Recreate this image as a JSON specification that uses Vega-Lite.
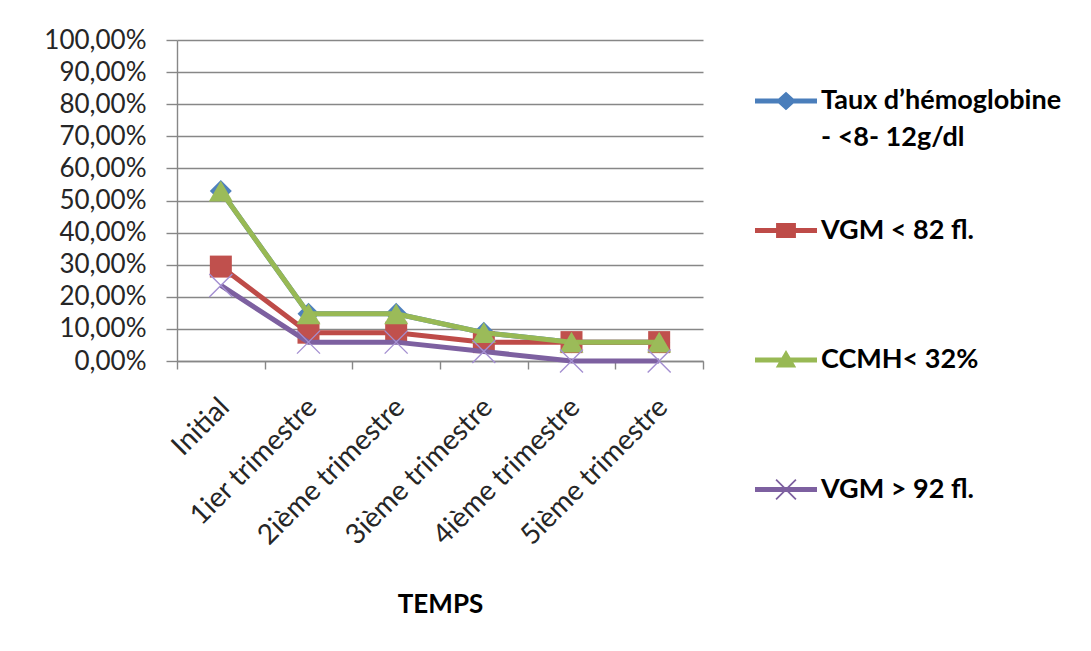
{
  "$schema": "https://vega.github.io/schema/vega-lite/v6.json",
  "width": 526,
  "height": 321,
  "autosize": {"type": "none"},
  "padding": {"left": 177, "top": 40, "right": 388, "bottom": 290},
  "background": "white",
  "config": {
    "font": "Lato",
    "view": {"stroke": null},
    "axis": {
      "domainColor": "#878787",
      "domainWidth": 1.4,
      "tickColor": "#878787",
      "tickWidth": 1.4,
      "gridColor": "#878787",
      "gridWidth": 1.4,
      "labelFont": "Lato",
      "labelFontSize": 26,
      "labelColor": "#262626",
      "titleFont": "Lato",
      "titleFontSize": 26,
      "titleFontWeight": "bold",
      "titleColor": "#000000"
    }
  },
  "data": {
    "values": [
      {"Temps": "Initial", "Serie": "Taux d’hémoglobine - <8- 12g/dl", "Valeur": 0.5294},
      {"Temps": "1ier trimestre", "Serie": "Taux d’hémoglobine - <8- 12g/dl", "Valeur": 0.1471},
      {"Temps": "2ième trimestre", "Serie": "Taux d’hémoglobine - <8- 12g/dl", "Valeur": 0.1471},
      {"Temps": "3ième  trimestre", "Serie": "Taux d’hémoglobine - <8- 12g/dl", "Valeur": 0.0882},
      {"Temps": "4ième trimestre", "Serie": "Taux d’hémoglobine - <8- 12g/dl", "Valeur": 0.0588},
      {"Temps": "5ième trimestre", "Serie": "Taux d’hémoglobine - <8- 12g/dl", "Valeur": 0.0588},
      {"Temps": "Initial", "Serie": "VGM < 82 fl.", "Valeur": 0.2941},
      {"Temps": "1ier trimestre", "Serie": "VGM < 82 fl.", "Valeur": 0.0882},
      {"Temps": "2ième trimestre", "Serie": "VGM < 82 fl.", "Valeur": 0.0882},
      {"Temps": "3ième  trimestre", "Serie": "VGM < 82 fl.", "Valeur": 0.0588},
      {"Temps": "4ième trimestre", "Serie": "VGM < 82 fl.", "Valeur": 0.0588},
      {"Temps": "5ième trimestre", "Serie": "VGM < 82 fl.", "Valeur": 0.0588},
      {"Temps": "Initial", "Serie": "CCMH< 32%", "Valeur": 0.5294},
      {"Temps": "1ier trimestre", "Serie": "CCMH< 32%", "Valeur": 0.1471},
      {"Temps": "2ième trimestre", "Serie": "CCMH< 32%", "Valeur": 0.1471},
      {"Temps": "3ième  trimestre", "Serie": "CCMH< 32%", "Valeur": 0.0882},
      {"Temps": "4ième trimestre", "Serie": "CCMH< 32%", "Valeur": 0.0588},
      {"Temps": "5ième trimestre", "Serie": "CCMH< 32%", "Valeur": 0.0588},
      {"Temps": "Initial", "Serie": "VGM > 92 fl.", "Valeur": 0.2353},
      {"Temps": "1ier trimestre", "Serie": "VGM > 92 fl.", "Valeur": 0.0588},
      {"Temps": "2ième trimestre", "Serie": "VGM > 92 fl.", "Valeur": 0.0588},
      {"Temps": "3ième  trimestre", "Serie": "VGM > 92 fl.", "Valeur": 0.0294},
      {"Temps": "4ième trimestre", "Serie": "VGM > 92 fl.", "Valeur": 0.0},
      {"Temps": "5ième trimestre", "Serie": "VGM > 92 fl.", "Valeur": 0.0}
    ]
  },
  "encoding": {
    "x": {
      "field": "Temps",
      "type": "nominal",
      "sort": ["Initial", "1ier trimestre", "2ième trimestre", "3ième  trimestre", "4ième trimestre", "5ième trimestre"],
      "scale": {"paddingInner": 0, "paddingOuter": 0},
      "axis": {
        "title": "TEMPS",
        "titlePadding": 36,
        "labelAngle": -45,
        "labelAlign": "right",
        "labelBaseline": "top",
        "labelFontSize": 28,
        "labelPadding": 24,
        "labelOffset": -6,
        "labelLimit": 0,
        "tickSize": 8,
        "tickBand": "extent",
        "grid": false
      }
    },
    "y": {
      "field": "Valeur",
      "type": "quantitative",
      "scale": {"domain": [0, 1], "nice": false},
      "axis": {
        "title": null,
        "values": [0, 0.1, 0.2, 0.3, 0.4, 0.5, 0.6, 0.7, 0.8, 0.9, 1],
        "labelExpr": "replace(format(datum.value, '.2%'), '.', ',')",
        "tickSize": 11,
        "labelPadding": 20,
        "grid": true
      }
    }
  },
  "layer": [
    {
      "transform": [{"filter": "datum.Serie === 'Taux d’hémoglobine - <8- 12g/dl'"}],
      "mark": {"type": "line", "strokeWidth": 5},
      "encoding": {
        "color": {
          "field": "Serie",
          "type": "nominal",
          "scale": {
            "domain": ["Taux d’hémoglobine - <8- 12g/dl", "VGM < 82 fl.", "CCMH< 32%", "VGM > 92 fl."],
            "range": ["#4A7EBB", "#BE4B48", "#98B954", "#7D60A0"]
          },
          "legend": {
            "title": null,
            "orient": "none",
            "legendX": 578,
            "legendY": 30,
            "direction": "vertical",
            "gridAlign": "all",
            "symbolSize": 3844,
            "rowPadding": 48.5,
            "labelOffset": 4,
            "labelFont": "Lato",
            "labelFontSize": 27,
            "labelFontWeight": "bold",
            "labelColor": "#000000",
            "labelLimit": 400,
            "labelBaseline": "middle",
            "labelExpr": "datum.label === 'Taux d’hémoglobine - <8- 12g/dl' ? ['Taux d’hémoglobine', '- <8- 12g/dl'] : datum.label",
            "encode": {
              "symbols": {
                "update": {
                  "shape": {"signal": "datum.value === 'VGM < 82 fl.' ? 'M-1,-0.08L1,-0.08L1,0.08L-1,0.08ZM-0.32,-0.24L0.32,-0.24L0.32,0.24L-0.32,0.24Z' : datum.value === 'CCMH< 32%' ? 'M-1,-0.08L1,-0.08L1,0.08L-1,0.08ZM0,-0.32L0.33,0.24L-0.33,0.24Z' : datum.value === 'VGM > 92 fl.' ? 'M-1,-0.08L1,-0.08L1,0.08L-1,0.08ZM-0.34,-0.3L-0.3,-0.34L0.34,0.3L0.3,0.34ZM0.3,-0.34L0.34,-0.3L-0.3,0.34L-0.34,0.3Z' : 'M-1,-0.08L1,-0.08L1,0.08L-1,0.08ZM-0.33,0L0,-0.3L0.33,0L0,0.3Z'"},
                  "fill": {"scale": "color", "field": "value"},
                  "stroke": {"value": "transparent"},
                  "strokeWidth": {"value": 0},
                  "opacity": {"value": 1}
                }
              },
              "labels": {
                "update": {
                  "lineHeight": {"value": 37}
                }
              }
            }
          }
        }
      }
    },
    {
      "transform": [{"filter": "datum.Serie === 'Taux d’hémoglobine - <8- 12g/dl'"}],
      "mark": {"type": "point", "shape": "diamond", "size": 484, "filled": true, "color": "#4F81BD", "opacity": 1}
    },
    {
      "transform": [{"filter": "datum.Serie === 'VGM < 82 fl.'"}],
      "mark": {"type": "line", "strokeWidth": 5},
      "encoding": {"color": {"field": "Serie", "type": "nominal"}}
    },
    {
      "transform": [{"filter": "datum.Serie === 'VGM < 82 fl.'"}],
      "mark": {"type": "point", "shape": "square", "size": 484, "filled": true, "color": "#C0504D", "opacity": 1}
    },
    {
      "transform": [{"filter": "datum.Serie === 'CCMH< 32%'"}],
      "mark": {"type": "line", "strokeWidth": 5},
      "encoding": {"color": {"field": "Serie", "type": "nominal"}}
    },
    {
      "transform": [{"filter": "datum.Serie === 'CCMH< 32%'"}],
      "mark": {"type": "point", "shape": "triangle-up", "size": 576, "filled": true, "color": "#9BBB59", "opacity": 1}
    },
    {
      "transform": [{"filter": "datum.Serie === 'VGM > 92 fl.'"}],
      "mark": {"type": "line", "strokeWidth": 5},
      "encoding": {"color": {"field": "Serie", "type": "nominal"}}
    },
    {
      "transform": [{"filter": "datum.Serie === 'VGM > 92 fl.'"}],
      "mark": {"type": "point", "shape": "M-1,-1L1,1M1,-1L-1,1", "size": 529, "filled": false, "color": "#A48FD1", "strokeWidth": 1.4, "opacity": 1}
    }
  ]
}
